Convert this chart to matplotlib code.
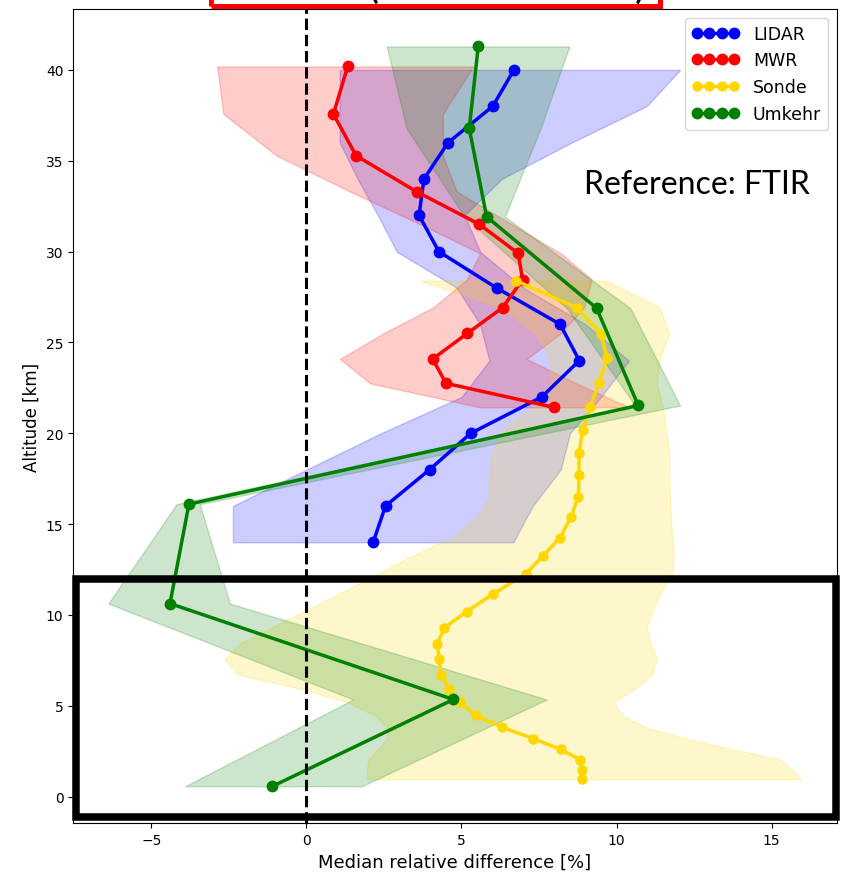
import numpy as np
import matplotlib.pyplot as plt
from matplotlib.patches import Rectangle

# LIDAR
lidar_alt = [14, 16, 18, 20, 22, 24, 26, 28, 30, 32, 34, 36, 38, 40]
lidar_med = [2.15, 2.55, 3.97, 5.3, 7.59, 8.8, 8.18, 6.13, 4.27, 3.63, 3.79, 4.57, 6.01, 6.69]
lidar_lo = [-2.37, -2.37, 0.0, 2.4, 5.0, 5.9, 5.6, 4.85, 2.91, 2.3, 1.65, 1.07, 1.07, 1.07]
lidar_hi = [6.67, 7.3, 8.2, 8.5, 9.5, 10.4, 9.0, 7.0, 5.6, 5.1, 6.3, 8.55, 10.97, 12.05]

# MWR
mwr_alt = [21.43, 22.75, 24.09, 25.5, 26.92, 28.46, 29.9, 31.52, 33.3, 35.28, 37.57, 40.19]
mwr_med = [7.98, 4.50, 4.07, 5.19, 6.33, 6.97, 6.83, 5.56, 3.55, 1.60, 0.87, 1.33]
mwr_lo = [5.6, 2.05, 1.08, 2.48, 4.08, 5.17, 5.6, 3.65, 1.41, -0.96, -2.68, -2.88]
mwr_hi = [10.4, 8.7, 7.1, 8.2, 8.95, 9.2, 8.2, 6.6, 4.85, 4.4, 4.4, 5.38]

# Sonde
sonde_alt = [0.95, 1.45, 2.04, 2.60, 3.19, 3.83, 4.47, 5.21, 5.94, 6.71, 7.55, 8.43, 9.30, 10.19,
             11.17, 12.27, 13.24, 14.26, 15.38, 16.52, 17.71, 18.9, 20.17, 21.43, 22.75, 24.13,
             25.45, 26.92, 28.4]
sonde_med = [8.90, 8.90, 8.82, 8.20, 7.32, 6.30, 5.46, 4.95, 4.60, 4.34, 4.28, 4.22, 4.45, 5.17,
             6.03, 7.08, 7.62, 8.18, 8.53, 8.77, 8.79, 8.79, 8.91, 9.15, 9.43, 9.70,
             9.50, 8.72, 6.75]
sonde_lo = [1.95, 1.95, 2.0, 2.3, 2.6, 2.6, 2.2, 1.3, -0.2, -2.2, -2.65, -2.15, -1.15, -0.1,
            1.05, 2.3, 3.4, 4.7, 5.5, 5.9, 5.92, 6.0, 6.3, 7.3, 7.9, 7.85,
            7.4, 6.3, 3.66]
sonde_hi = [15.97, 15.68, 15.3, 13.77, 12.3, 10.92, 10.2, 9.9, 10.6, 11.15, 11.3, 11.1, 10.97, 11.15,
            11.4, 11.8, 11.85, 11.8, 11.75, 11.73, 11.7, 11.7, 11.6, 11.5, 11.3, 11.4,
            11.7, 11.4, 9.68]

# Umkehr
umk_alt = [0.57, 5.35, 10.63, 16.1, 21.53, 26.88, 31.92, 36.78, 41.29]
umk_med = [-1.10, 4.74, -4.40, -3.79, 10.70, 9.36, 5.81, 5.25, 5.54]
umk_lo = [-3.92, 1.51, -6.39, -4.19, 10.6, 8.4, 5.1, 3.23, 2.59]
umk_hi = [1.78, 7.75, -2.47, -3.44, 12.05, 10.45, 6.4, 7.55, 8.48]

fig = plt.figure(figsize=(8.46, 8.87), dpi=100)
ax = fig.add_axes([0.0866, 0.0710, 0.9024, 0.9177])

series = [
    ("LIDAR", "blue", lidar_alt, lidar_med, lidar_lo, lidar_hi, 7.5),
    ("MWR", "red", mwr_alt, mwr_med, mwr_lo, mwr_hi, 7.5),
    ("Sonde", "gold", sonde_alt, sonde_med, sonde_lo, sonde_hi, 6.5),
    ("Umkehr", "green", umk_alt, umk_med, umk_lo, umk_hi, 7.5),
]

for name, c, alt, med, lo, hi, ms in series:
    ax.fill_betweenx(alt, lo, hi, color=c, alpha=0.2)
for name, c, alt, med, lo, hi, ms in series:
    ax.plot(med, alt, "-o", color=c, lw=2.5, ms=ms, label=name)

ax.axvline(0, color="black", ls="--", lw=2.2)

ax.set_xlim(-7.52, 17.1)
ax.set_ylim(-1.45, 43.35)
ax.set_xlabel("Median relative difference [%]", fontsize=13)
ax.set_ylabel("Altitude [km]", fontsize=12)
ax.tick_params(labelsize=10)
ax.legend(loc="upper right", numpoints=4, fontsize=12.5, handlelength=2.7)

ax.text(0.8235, 0.7914, "Reference: FTIR", transform=fig.transFigure,
        family="Lato", fontsize=23, ha="center", va="center")

# annotation boxes
fig.add_artist(Rectangle((0.0901, 0.0778), 0.8975, 0.2680, transform=fig.transFigure,
                         fill=False, edgecolor="black", lw=5.4))
fig.add_artist(Rectangle((0.2498, 0.99177), 0.5303, 0.1, transform=fig.transFigure,
                         fill=False, edgecolor="red", lw=3.6))
fig.text(0.441, 0.9945, "(", family="Lato", fontsize=30, ha="center", va="bottom")
fig.text(0.7565, 0.9945, ")", family="Lato", fontsize=30, ha="center", va="bottom")

fig.savefig("out.png", dpi=100)
